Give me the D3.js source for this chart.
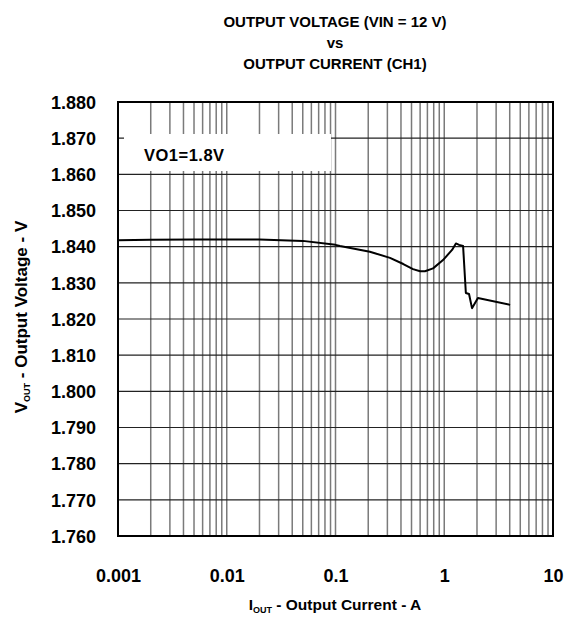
<!DOCTYPE html>
<html lang="en">
<head>
	<meta charset="UTF-8">
	<title>Output Voltage vs Output Current</title>
	<script src="https://d3js.org/d3.v7.min.js"></script>
	<style>
		* { margin: 0px; padding: 0px; }
		body { background: #fff; }
		text { font-family: "Liberation Sans", Arial, sans-serif; font-weight: bold; fill: #000; }
	</style>
</head>
<body>
	<svg width="567" height="623"></svg>
	<script>
		// data
		var current = [0.001, 0.002, 0.005, 0.01, 0.02, 0.05, 0.1, 0.11, 0.207, 0.317, 0.42, 0.516, 0.6, 0.665, 0.789, 0.974, 1.18, 1.28, 1.37, 1.49, 1.58, 1.69, 1.80, 2.04, 4.03];
		var voltage = [1.8418, 1.8419, 1.8420, 1.8420, 1.8420, 1.8416, 1.8405, 1.8402, 1.8386, 1.8369, 1.8352, 1.8338, 1.8332, 1.8332, 1.8340, 1.8363, 1.8391, 1.8409, 1.8405, 1.8402, 1.8272, 1.8269, 1.8230, 1.8258, 1.8239];
		var yTicks = [1.760, 1.770, 1.780, 1.790, 1.800, 1.810, 1.820, 1.830, 1.840, 1.850, 1.860, 1.870, 1.880];
		var xTicks = [0.001, 0.01, 0.1, 1, 10];
		var titleLines = ["OUTPUT VOLTAGE (VIN = 12 V)", "vs", "OUTPUT CURRENT (CH1)"];

		var svg = d3.select("svg");
		// note: "top" is taken by window.top, so use plot* names
		var plotL = 118, plotR = 553, plotT = 102, plotB = 536;

		var x = d3.scaleLog().domain([0.001, 10]).range([plotL, plotR]);
		var y = d3.scaleLinear().domain([1.760, 1.880]).range([plotB, plotT]);

		// minor + major vertical grid
		var vLines = [];
		for (var d = 0.001; d < 9; d *= 10) {
			for (var k = 1; k <= 9; k++) vLines.push(d * k);
		}
		svg.append("g").selectAll("line")
			.data(vLines)
			.enter().append("line")
			.attr("x1", function (d) { return x(d); })
			.attr("x2", function (d) { return x(d); })
			.attr("y1", plotT).attr("y2", plotB)
			.attr("stroke", "#7a7a7a")
			.attr("stroke-width", 1.5);

		svg.append("g").selectAll("line")
			.data(yTicks)
			.enter().append("line")
			.attr("x1", plotL).attr("x2", plotR)
			.attr("y1", function (d) { return y(d); })
			.attr("y2", function (d) { return y(d); })
			.attr("stroke", "#222")
			.attr("stroke-width", 1.2);

		// label box
		svg.append("rect")
			.attr("x", 124).attr("y", 134)
			.attr("width", 207).attr("height", 37)
			.attr("fill", "#fff");
		svg.append("text")
			.attr("x", 144).attr("y", 161)
			.style("font-size", "16.5px")
			.style("letter-spacing", "0.5px")
			.text("VO1=1.8V");

		// frame
		svg.append("rect")
			.attr("x", plotL).attr("y", plotT)
			.attr("width", plotR - plotL).attr("height", plotB - plotT)
			.attr("fill", "none")
			.attr("stroke", "#000")
			.attr("stroke-width", 2);

		// curve
		var pts = current.map(function (c, i) { return [c, voltage[i]]; });
		var line = d3.line()
			.x(function (d) { return x(d[0]); })
			.y(function (d) { return y(d[1]); });
		svg.append("path")
			.datum(pts)
			.attr("d", line)
			.attr("fill", "none")
			.attr("stroke", "#000")
			.attr("stroke-width", 2)
			.attr("stroke-linejoin", "round");

		// axes tick labels
		var yAxis = d3.axisLeft(y).tickValues(yTicks).tickSize(0).tickPadding(0)
			.tickFormat(d3.format(".3f"));
		var gy = svg.append("g").attr("transform", "translate(" + (plotL - 22) + ",0)").call(yAxis);
		gy.select(".domain").remove();
		gy.selectAll("text").style("font-size", "18px").attr("dy", "0.35em")
			.style("font-family", "'Liberation Sans', Arial, sans-serif").style("font-weight", "bold");

		var xAxis = d3.axisBottom(x).tickValues(xTicks).tickSize(0).tickPadding(0)
			.tickFormat(function (d) { return String(d); });
		var gx = svg.append("g").attr("transform", "translate(0," + (plotB + 40) + ")").call(xAxis);
		gx.select(".domain").remove();
		gx.selectAll("text").style("font-size", "18px").attr("dy", "0.35em")
			.style("font-family", "'Liberation Sans', Arial, sans-serif").style("font-weight", "bold");

		// title
		svg.append("g").selectAll("text")
			.data(titleLines)
			.enter().append("text")
			.attr("x", 335)
			.attr("y", function (d, i) { return 27 + i * 21; })
			.attr("text-anchor", "middle")
			.style("font-size", "15px")
			.text(function (d) { return d; });

		// x axis title
		var xt = svg.append("text")
			.attr("x", 335).attr("y", 610)
			.attr("text-anchor", "middle")
			.style("font-size", "15.5px");
		xt.append("tspan").text("I");
		xt.append("tspan").attr("dy", 3).style("font-size", "9px").text("OUT");
		xt.append("tspan").attr("dy", -3).text(" - Output Current - A");

		// y axis title
		var yt = svg.append("text")
			.attr("transform", "translate(27," + ((plotT + plotB) / 2 - 2) + ") rotate(-90)")
			.attr("text-anchor", "middle")
			.style("font-size", "17px");
		yt.append("tspan").text("V");
		yt.append("tspan").attr("dy", 3).style("font-size", "9px").text("OUT");
		yt.append("tspan").attr("dy", -3).text(" - Output Voltage - V");
	</script>
</body>
</html>
